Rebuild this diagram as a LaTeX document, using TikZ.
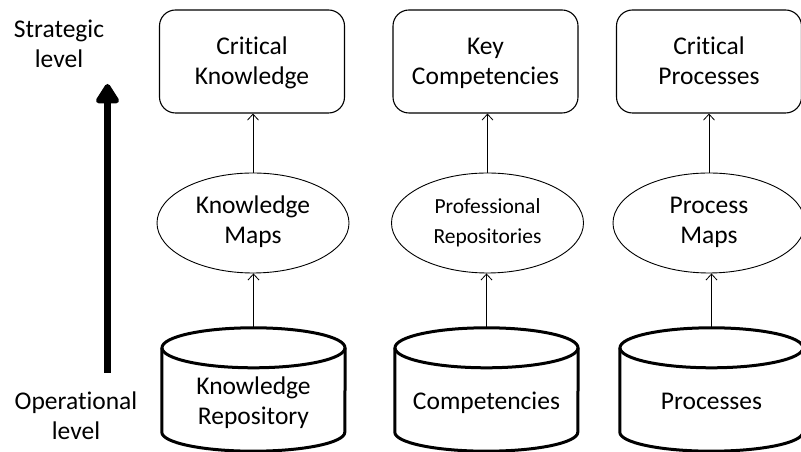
\documentclass[tikz,border=0pt]{standalone}
\usepackage{fontspec}
\setmainfont{Carlito}[Ligatures=NoCommon]
\usetikzlibrary{arrows.meta,shapes.geometric,calc}
\newcommand\drawcyl[1]{%
  \draw[cylline] ($(#1.north)+(0,-20)$) ellipse [x radius=91.5, y radius=20];
  \draw[cylline] ($(#1.north west)+(0,-20)$) -- ($(#1.south west)+(0,19)$)
     arc[start angle=180, end angle=360, x radius=91.5, y radius=19]
     -- ($(#1.north east)+(0,-20)$);
}
\newcommand\tallstrut{\rule{0pt}{26pt}}
\begin{document}
\begin{tikzpicture}[x=1pt,y=1pt,
  txt/.style={align=center, font=\fontsize{25.5}{30}\selectfont},
  box/.style={txt, draw, line width=1.1pt, rounded corners=16pt, minimum width=185pt, minimum height=103pt, inner sep=0pt},
  oval/.style={txt, draw, ellipse, line width=0.9pt, minimum width=192pt, minimum height=100pt, inner sep=0pt},
  small/.style={font=\fontsize{21.5}{30}\selectfont},
  cylarea/.style={minimum width=183pt, minimum height=123pt, inner sep=0pt},
  cylline/.style={line width=3pt},
  link/.style={line width=0.8pt, -{Straight Barb[length=6pt,width=11pt]}},
  level/.style={line width=7pt, -{Triangle[length=22pt,width=26pt,round]}},
]
\useasboundingbox (0,0) rectangle (801,452);

% strategic level boxes
\node[box] (r1) at (252,390.5) {\tallstrut Critical\\\strut Knowledge};
\node[box] (r2) at (485.5,390.5) {\tallstrut Key\\\strut Competencies};
\node[box] (r3) at (709,390.5) {\tallstrut Critical\\\strut Processes};

% maps
\node[oval] (e1) at (253,229) {\strut Knowledge\\\strut Maps};
\node[oval, small] (e2) at (487.5,229) {\strut Professional\\\strut Repositories};
\node[oval] (e3) at (709,229) {\strut Process\\\strut Maps};

% repositories (cylinders)
\node[cylarea] (c1) at (253.5,62.5) {};
\node[cylarea] (c2) at (486.5,62.5) {};
\node[cylarea] (c3) at (711.5,62.5) {};
\drawcyl{c1}
\drawcyl{c2}
\drawcyl{c3}
\node[txt] (t1) at (253.5,48) {\strut Knowledge\\\strut Repository};
\node[txt] (t2) at (486.5,48) {\strut Competencies};
\node[txt] (t3) at (711.5,48) {\strut Processes};

% connectors
\draw[link] (c1.north) -- (c1.north |- e1.south);
\draw[link] (c2.north) -- (c2.north |- e2.south);
\draw[link] (c3.north) -- (c3.north |- e3.south);
\draw[link] (e1.north) -- (e1.north |- r1.south);
\draw[link] (e2.north) -- (e2.north |- r2.south);
\draw[link] (e3.north) -- (e3.north |- r3.south);

% level labels and arrow
\node[txt] (strat) at (59,405) {\strut Strategic\\\strut level};
\node[txt] (oper) at (76,33) {\strut Operational\\\strut level};
\coordinate (abot) at (107.5,79);
\coordinate (atop) at (107.5,368);
\draw[level] (abot) -- (atop);
\end{tikzpicture}
\end{document}
